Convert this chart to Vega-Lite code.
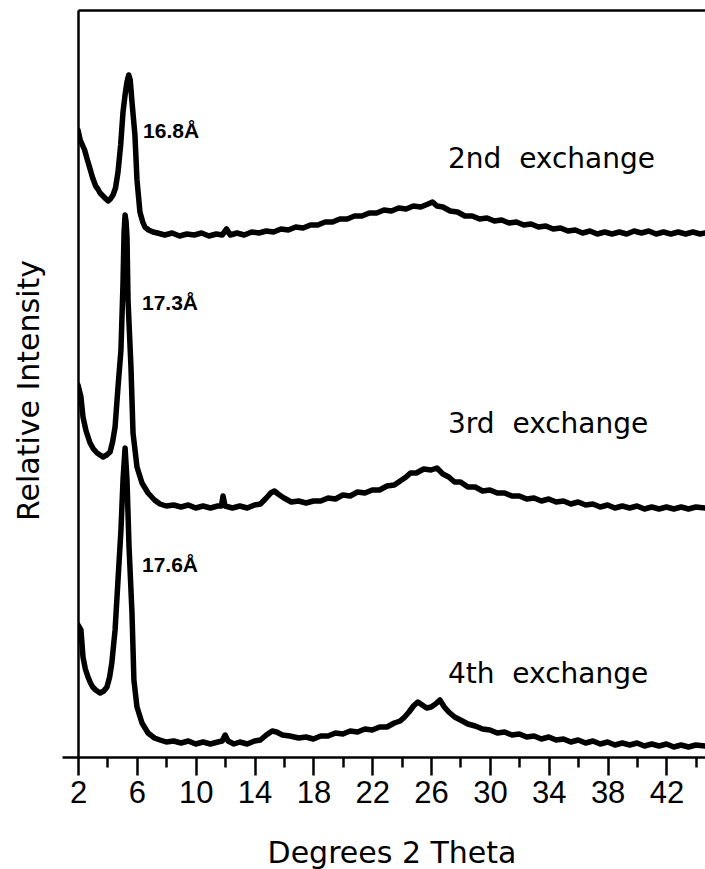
{
  "$schema": "https://vega.github.io/schema/vega-lite/v6.json",
  "width": 627,
  "height": 747,
  "autosize": {"type": "none"},
  "padding": {"left": 78, "top": 10, "right": 0, "bottom": 112},
  "background": "white",
  "config": {"view": {"stroke": null}, "font": "DejaVu Sans"},
  "datasets": {
    "traces": [
      {"s":"2nd","x":2.0,"y":627},{"s":"2nd","x":2.15,"y":617},{"s":"2nd","x":2.3,"y":612},{"s":"2nd","x":2.45,"y":607},{"s":"2nd","x":2.6,"y":599},{"s":"2nd","x":2.8,"y":589},{"s":"2nd","x":3.0,"y":579},{"s":"2nd","x":3.2,"y":571},{"s":"2nd","x":3.35,"y":568},{"s":"2nd","x":3.5,"y":564},{"s":"2nd","x":3.7,"y":561},{"s":"2nd","x":3.9,"y":558},{"s":"2nd","x":4.05,"y":556},{"s":"2nd","x":4.2,"y":558},{"s":"2nd","x":4.38,"y":562},{"s":"2nd","x":4.55,"y":569},{"s":"2nd","x":4.72,"y":585},{"s":"2nd","x":4.9,"y":612},{"s":"2nd","x":5.06,"y":645},{"s":"2nd","x":5.2,"y":662},{"s":"2nd","x":5.33,"y":675},{"s":"2nd","x":5.45,"y":682},{"s":"2nd","x":5.55,"y":677},{"s":"2nd","x":5.67,"y":655},{"s":"2nd","x":5.87,"y":622},{"s":"2nd","x":6.01,"y":577},{"s":"2nd","x":6.21,"y":545},{"s":"2nd","x":6.4,"y":535},{"s":"2nd","x":6.55,"y":530},{"s":"2nd","x":6.8,"y":527},{"s":"2nd","x":7.1,"y":525},
      {"s":"2nd","x":7.4,"y":524},{"s":"2nd","x":7.9,"y":522},{"s":"2nd","x":8.4,"y":524},{"s":"2nd","x":8.9,"y":521},{"s":"2nd","x":9.4,"y":523},{"s":"2nd","x":9.9,"y":522},{"s":"2nd","x":10.4,"y":524},{"s":"2nd","x":10.9,"y":521},{"s":"2nd","x":11.4,"y":523},{"s":"2nd","x":11.8,"y":522},{"s":"2nd","x":12.1,"y":528},{"s":"2nd","x":12.35,"y":522},{"s":"2nd","x":12.8,"y":524},{"s":"2nd","x":13.3,"y":522},{"s":"2nd","x":13.8,"y":525},{"s":"2nd","x":14.3,"y":524},{"s":"2nd","x":14.8,"y":526},{"s":"2nd","x":15.3,"y":525},{"s":"2nd","x":15.8,"y":528},{"s":"2nd","x":16.3,"y":527},{"s":"2nd","x":16.8,"y":530},{"s":"2nd","x":17.3,"y":529},{"s":"2nd","x":17.8,"y":532},{"s":"2nd","x":18.3,"y":532},{"s":"2nd","x":18.8,"y":535},{"s":"2nd","x":19.3,"y":535},{"s":"2nd","x":19.8,"y":538},{"s":"2nd","x":20.3,"y":538},{"s":"2nd","x":20.8,"y":541},{"s":"2nd","x":21.3,"y":541},{"s":"2nd","x":21.8,"y":544},{"s":"2nd","x":22.3,"y":544},{"s":"2nd","x":22.8,"y":547},{"s":"2nd","x":23.3,"y":546},{"s":"2nd","x":23.8,"y":549},{"s":"2nd","x":24.3,"y":548},{"s":"2nd","x":24.8,"y":551},{"s":"2nd","x":25.3,"y":550},{"s":"2nd","x":25.8,"y":553},{"s":"2nd","x":26.1,"y":555},{"s":"2nd","x":26.4,"y":551},{"s":"2nd","x":26.8,"y":550},{"s":"2nd","x":27.3,"y":546},{"s":"2nd","x":27.8,"y":545},{"s":"2nd","x":28.3,"y":541},{"s":"2nd","x":28.8,"y":541},{"s":"2nd","x":29.3,"y":538},{"s":"2nd","x":29.8,"y":539},{"s":"2nd","x":30.3,"y":536},{"s":"2nd","x":30.8,"y":537},{"s":"2nd","x":31.3,"y":534},{"s":"2nd","x":31.8,"y":535},{"s":"2nd","x":32.3,"y":532},{"s":"2nd","x":32.8,"y":533},{"s":"2nd","x":33.3,"y":530},{"s":"2nd","x":33.8,"y":531},{"s":"2nd","x":34.3,"y":528},{"s":"2nd","x":34.8,"y":529},{"s":"2nd","x":35.3,"y":526},{"s":"2nd","x":35.8,"y":527},{"s":"2nd","x":36.3,"y":524},{"s":"2nd","x":36.8,"y":526},{"s":"2nd","x":37.3,"y":523},{"s":"2nd","x":37.8,"y":525},{"s":"2nd","x":38.3,"y":523},{"s":"2nd","x":38.8,"y":525},{"s":"2nd","x":39.3,"y":523},{"s":"2nd","x":39.8,"y":526},{"s":"2nd","x":40.3,"y":524},{"s":"2nd","x":40.8,"y":526},{"s":"2nd","x":41.3,"y":523},{"s":"2nd","x":41.8,"y":525},{"s":"2nd","x":42.3,"y":523},{"s":"2nd","x":42.8,"y":525},{"s":"2nd","x":43.3,"y":523},{"s":"2nd","x":43.8,"y":525},{"s":"2nd","x":44.3,"y":523},{"s":"2nd","x":44.62,"y":524},

      {"s":"3rd","x":2.0,"y":372},{"s":"3rd","x":2.2,"y":360},{"s":"3rd","x":2.34,"y":340},{"s":"3rd","x":2.55,"y":326},{"s":"3rd","x":2.82,"y":314},{"s":"3rd","x":3.05,"y":308},{"s":"3rd","x":3.3,"y":304},{"s":"3rd","x":3.5,"y":302},{"s":"3rd","x":3.7,"y":300},{"s":"3rd","x":3.95,"y":302},{"s":"3rd","x":4.18,"y":305},{"s":"3rd","x":4.35,"y":315},{"s":"3rd","x":4.52,"y":330},{"s":"3rd","x":4.72,"y":370},{"s":"3rd","x":4.92,"y":407},{"s":"3rd","x":5.06,"y":474},{"s":"3rd","x":5.13,"y":524},{"s":"3rd","x":5.2,"y":542},{"s":"3rd","x":5.27,"y":535},{"s":"3rd","x":5.33,"y":520},{"s":"3rd","x":5.4,"y":457},{"s":"3rd","x":5.6,"y":390},{"s":"3rd","x":5.74,"y":324},{"s":"3rd","x":6.01,"y":290},{"s":"3rd","x":6.35,"y":274},{"s":"3rd","x":6.76,"y":264},{"s":"3rd","x":7.2,"y":257},
      {"s":"3rd","x":7.57,"y":253},{"s":"3rd","x":8.0,"y":251},{"s":"3rd","x":8.5,"y":252},{"s":"3rd","x":9.0,"y":250},{"s":"3rd","x":9.5,"y":252},{"s":"3rd","x":10.0,"y":249},{"s":"3rd","x":10.5,"y":251},{"s":"3rd","x":11.0,"y":249},{"s":"3rd","x":11.5,"y":251},{"s":"3rd","x":11.75,"y":251},{"s":"3rd","x":11.86,"y":261},{"s":"3rd","x":12.0,"y":251},{"s":"3rd","x":12.5,"y":249},{"s":"3rd","x":13.0,"y":251},{"s":"3rd","x":13.5,"y":249},{"s":"3rd","x":14.0,"y":252},{"s":"3rd","x":14.4,"y":253},{"s":"3rd","x":14.8,"y":259},{"s":"3rd","x":15.1,"y":264},{"s":"3rd","x":15.35,"y":266},{"s":"3rd","x":15.6,"y":263},{"s":"3rd","x":16.0,"y":259},{"s":"3rd","x":16.5,"y":255},{"s":"3rd","x":17.0,"y":256},{"s":"3rd","x":17.5,"y":254},{"s":"3rd","x":18.0,"y":256},{"s":"3rd","x":18.5,"y":256},{"s":"3rd","x":19.0,"y":259},{"s":"3rd","x":19.5,"y":258},{"s":"3rd","x":20.0,"y":262},{"s":"3rd","x":20.5,"y":261},{"s":"3rd","x":21.0,"y":265},{"s":"3rd","x":21.5,"y":264},{"s":"3rd","x":22.0,"y":267},{"s":"3rd","x":22.5,"y":267},{"s":"3rd","x":23.0,"y":271},{"s":"3rd","x":23.5,"y":272},{"s":"3rd","x":24.0,"y":277},{"s":"3rd","x":24.3,"y":280},{"s":"3rd","x":24.6,"y":284},{"s":"3rd","x":25.0,"y":284},{"s":"3rd","x":25.5,"y":288},{"s":"3rd","x":26.0,"y":287},{"s":"3rd","x":26.4,"y":289},{"s":"3rd","x":26.8,"y":283},{"s":"3rd","x":27.2,"y":280},{"s":"3rd","x":27.6,"y":275},{"s":"3rd","x":28.0,"y":275},{"s":"3rd","x":28.5,"y":270},{"s":"3rd","x":29.0,"y":270},{"s":"3rd","x":29.5,"y":266},{"s":"3rd","x":30.0,"y":267},{"s":"3rd","x":30.5,"y":264},{"s":"3rd","x":31.0,"y":264},{"s":"3rd","x":31.5,"y":261},{"s":"3rd","x":32.0,"y":261},{"s":"3rd","x":32.5,"y":258},{"s":"3rd","x":33.0,"y":259},{"s":"3rd","x":33.5,"y":256},{"s":"3rd","x":34.0,"y":258},{"s":"3rd","x":34.5,"y":255},{"s":"3rd","x":35.0,"y":256},{"s":"3rd","x":35.5,"y":253},{"s":"3rd","x":36.0,"y":255},{"s":"3rd","x":36.5,"y":252},{"s":"3rd","x":37.0,"y":253},{"s":"3rd","x":37.5,"y":250},{"s":"3rd","x":38.0,"y":252},{"s":"3rd","x":38.5,"y":249},{"s":"3rd","x":39.0,"y":251},{"s":"3rd","x":39.5,"y":249},{"s":"3rd","x":40.0,"y":251},{"s":"3rd","x":40.5,"y":248},{"s":"3rd","x":41.0,"y":250},{"s":"3rd","x":41.5,"y":248},{"s":"3rd","x":42.0,"y":250},{"s":"3rd","x":42.5,"y":248},{"s":"3rd","x":43.0,"y":250},{"s":"3rd","x":43.5,"y":248},{"s":"3rd","x":44.0,"y":250},{"s":"3rd","x":44.62,"y":249},

      {"s":"4th","x":2.0,"y":132},{"s":"4th","x":2.2,"y":127},{"s":"4th","x":2.34,"y":100},{"s":"4th","x":2.5,"y":88},{"s":"4th","x":2.68,"y":80},{"s":"4th","x":2.85,"y":74},{"s":"4th","x":3.0,"y":70},{"s":"4th","x":3.2,"y":67},{"s":"4th","x":3.5,"y":64},{"s":"4th","x":3.75,"y":66},{"s":"4th","x":3.97,"y":70},{"s":"4th","x":4.15,"y":80},{"s":"4th","x":4.3,"y":94},{"s":"4th","x":4.52,"y":127},{"s":"4th","x":4.72,"y":177},{"s":"4th","x":4.92,"y":227},{"s":"4th","x":5.06,"y":277},{"s":"4th","x":5.2,"y":309},{"s":"4th","x":5.33,"y":277},{"s":"4th","x":5.47,"y":210},{"s":"4th","x":5.67,"y":144},{"s":"4th","x":5.8,"y":77},{"s":"4th","x":6.01,"y":50},{"s":"4th","x":6.35,"y":34},{"s":"4th","x":6.76,"y":24},{"s":"4th","x":7.2,"y":19},
      {"s":"4th","x":7.57,"y":17},{"s":"4th","x":8.0,"y":15},{"s":"4th","x":8.5,"y":16},{"s":"4th","x":9.0,"y":14},{"s":"4th","x":9.5,"y":16},{"s":"4th","x":10.0,"y":13},{"s":"4th","x":10.5,"y":15},{"s":"4th","x":11.0,"y":13},{"s":"4th","x":11.5,"y":15},{"s":"4th","x":11.8,"y":16},{"s":"4th","x":12.0,"y":22},{"s":"4th","x":12.2,"y":16},{"s":"4th","x":12.6,"y":13},{"s":"4th","x":13.0,"y":15},{"s":"4th","x":13.5,"y":13},{"s":"4th","x":14.0,"y":16},{"s":"4th","x":14.4,"y":17},{"s":"4th","x":14.8,"y":22},{"s":"4th","x":15.2,"y":26},{"s":"4th","x":15.5,"y":25},{"s":"4th","x":15.9,"y":22},{"s":"4th","x":16.4,"y":21},{"s":"4th","x":17.0,"y":19},{"s":"4th","x":17.5,"y":20},{"s":"4th","x":18.0,"y":18},{"s":"4th","x":18.5,"y":21},{"s":"4th","x":19.0,"y":21},{"s":"4th","x":19.5,"y":24},{"s":"4th","x":20.0,"y":23},{"s":"4th","x":20.5,"y":26},{"s":"4th","x":21.0,"y":25},{"s":"4th","x":21.5,"y":28},{"s":"4th","x":22.0,"y":27},{"s":"4th","x":22.5,"y":30},{"s":"4th","x":23.0,"y":30},{"s":"4th","x":23.5,"y":34},{"s":"4th","x":23.9,"y":36},{"s":"4th","x":24.2,"y":40},{"s":"4th","x":24.5,"y":45},{"s":"4th","x":24.8,"y":51},{"s":"4th","x":25.1,"y":55},{"s":"4th","x":25.4,"y":52},{"s":"4th","x":25.7,"y":49},{"s":"4th","x":26.0,"y":50},{"s":"4th","x":26.3,"y":53},{"s":"4th","x":26.6,"y":57},{"s":"4th","x":26.9,"y":50},{"s":"4th","x":27.2,"y":45},{"s":"4th","x":27.6,"y":40},{"s":"4th","x":28.0,"y":37},{"s":"4th","x":28.5,"y":33},{"s":"4th","x":29.0,"y":31},{"s":"4th","x":29.5,"y":28},{"s":"4th","x":30.0,"y":27},{"s":"4th","x":30.5,"y":24},{"s":"4th","x":31.0,"y":25},{"s":"4th","x":31.5,"y":22},{"s":"4th","x":32.0,"y":23},{"s":"4th","x":32.5,"y":20},{"s":"4th","x":33.0,"y":21},{"s":"4th","x":33.5,"y":18},{"s":"4th","x":34.0,"y":20},{"s":"4th","x":34.5,"y":17},{"s":"4th","x":35.0,"y":18},{"s":"4th","x":35.5,"y":15},{"s":"4th","x":36.0,"y":17},{"s":"4th","x":36.5,"y":14},{"s":"4th","x":37.0,"y":16},{"s":"4th","x":37.5,"y":13},{"s":"4th","x":38.0,"y":15},{"s":"4th","x":38.5,"y":12},{"s":"4th","x":39.0,"y":14},{"s":"4th","x":39.5,"y":12},{"s":"4th","x":40.0,"y":14},{"s":"4th","x":40.5,"y":11},{"s":"4th","x":41.0,"y":13},{"s":"4th","x":41.5,"y":11},{"s":"4th","x":42.0,"y":13},{"s":"4th","x":42.5,"y":10},{"s":"4th","x":43.0,"y":12},{"s":"4th","x":43.5,"y":10},{"s":"4th","x":44.0,"y":12},{"s":"4th","x":44.62,"y":11}
    ],
    "angstrom": [
      {"x": 6.42, "y": 619, "t": "16.8Å"},
      {"x": 6.35, "y": 447, "t": "17.3Å"},
      {"x": 6.35, "y": 185, "t": "17.6Å"}
    ],
    "exchange": [
      {"x": 27.15, "y": 589, "t": "2nd\u00a0 exchange"},
      {"x": 27.15, "y": 324, "t": "3rd\u00a0 exchange"},
      {"x": 27.15, "y": 74, "t": "4th\u00a0 exchange"}
    ]
  },
  "layer": [
    {
      "data": {"name": "traces"},
      "mark": {"type": "line", "color": "black", "strokeWidth": 5.5, "strokeJoin": "round", "strokeCap": "round", "clip": true},
      "encoding": {
        "x": {
          "field": "x", "type": "quantitative",
          "scale": {"domain": [2, 44.62], "nice": false, "zero": false},
          "axis": {
            "orient": "bottom",
            "values": [2,4,6,8,10,12,14,16,18,20,22,24,26,28,30,32,34,36,38,40,42,44],
            "labelExpr": "datum.value % 4 == 2 ? datum.label : ''",
            "grid": false,
            "domainColor": "black", "domainWidth": 2.5,
            "tickColor": "black", "tickWidth": 2.5,
            "tickSize": {"condition": {"test": "datum.value % 4 == 2", "value": 18}, "value": 10},
            "labelFont": "Liberation Sans Narrow, Liberation Sans, sans-serif",
            "labelFontSize": 31, "labelColor": "black",
            "labelBaseline": "alphabetic", "labelPadding": 27,
            "labelFlush": false, "labelOverlap": false,
            "title": "Degrees 2 Theta",
            "titleFont": "DejaVu Sans", "titleFontSize": 30, "titleFontWeight": "normal", "titleColor": "black",
            "titleBaseline": "alphabetic", "titleY": 105
          }
        },
        "y": {
          "field": "y", "type": "quantitative",
          "scale": {"domain": [0, 747], "nice": false, "zero": true},
          "axis": {
            "orient": "left",
            "values": [0], "labels": false, "grid": false,
            "domain": true,
            "domainColor": "black", "domainWidth": 2.5,
            "ticks": true,
            "tickColor": "black", "tickWidth": 2.5, "tickSize": 16,
            "title": "Relative Intensity",
            "titleFont": "DejaVu Sans", "titleFontSize": 30, "titleFontWeight": "normal", "titleColor": "black",
            "titleAngle": 270, "titleAlign": "center", "titleBaseline": "alphabetic",
            "titleX": -40, "titleY": 380
          }
        },
        "detail": {"field": "s"}
      }
    },
    {
      "data": {"name": "angstrom"},
      "mark": {"type": "text", "align": "left", "baseline": "alphabetic", "font": "Liberation Sans", "fontWeight": "bold", "fontSize": 21, "color": "black"},
      "encoding": {
        "x": {"field": "x", "type": "quantitative",
          "axis": {"orient": "top", "labels": false, "ticks": false, "grid": false, "title": null, "domainColor": "black", "domainWidth": 2.5}},
        "y": {"field": "y", "type": "quantitative"},
        "text": {"field": "t"}
      }
    },
    {
      "data": {"name": "exchange"},
      "mark": {"type": "text", "align": "left", "baseline": "alphabetic", "font": "DejaVu Sans", "fontSize": 28, "color": "black"},
      "encoding": {
        "x": {"field": "x", "type": "quantitative", "axis": null},
        "y": {"field": "y", "type": "quantitative"},
        "text": {"field": "t"}
      }
    }
  ],
  "resolve": {"axis": {"x": "independent"}}
}
